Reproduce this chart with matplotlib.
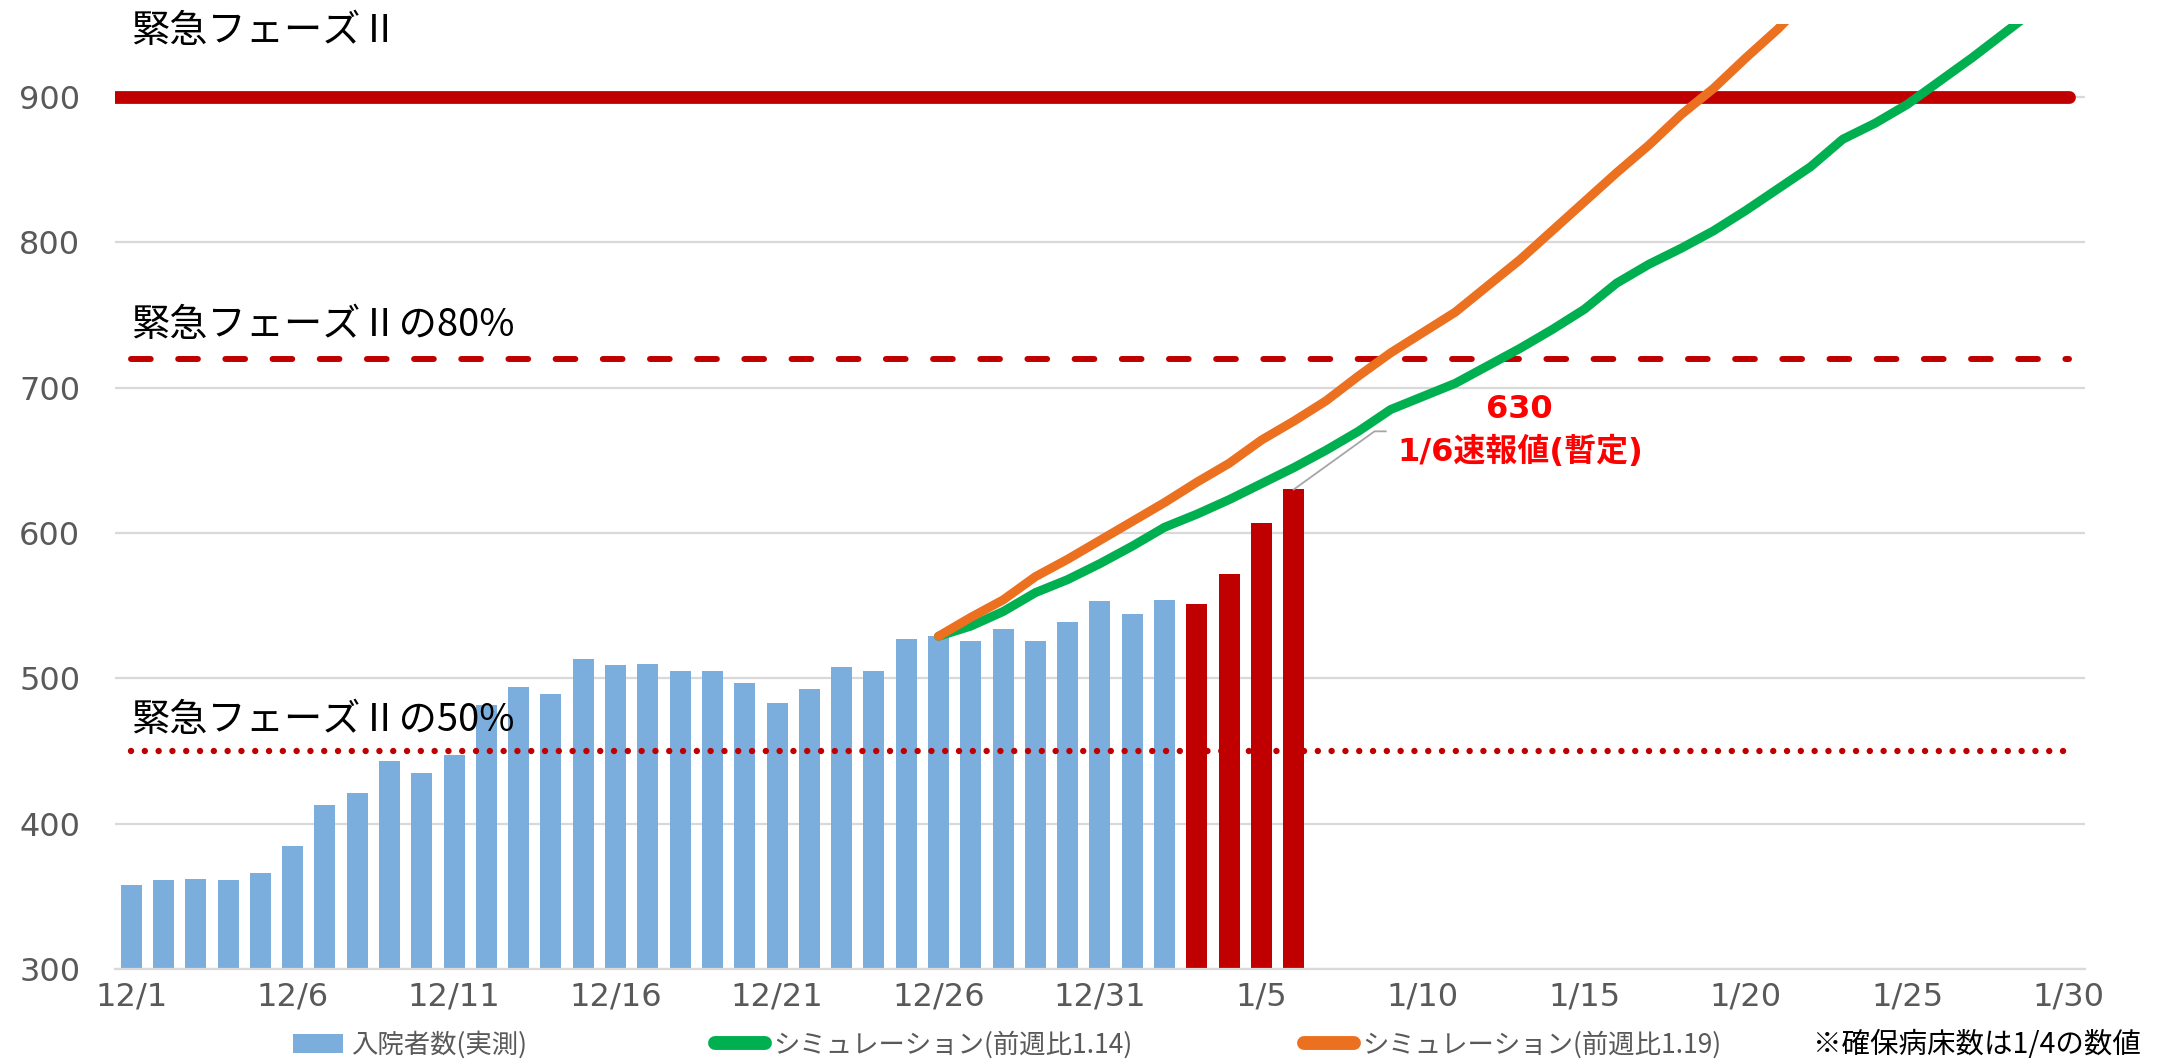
import matplotlib
matplotlib.use("Agg")
import matplotlib.pyplot as plt
from matplotlib.patches import Patch
from matplotlib.lines import Line2D

plt.rcParams['font.family'] = ['DejaVu Sans', 'Noto Sans CJK JP']
CJK = ['Noto Sans CJK JP', 'DejaVu Sans']

# day index 0 = 12/1 ... 60 = 1/30
tick_pos = [0, 5, 10, 15, 20, 25, 30, 35, 40, 45, 50, 55, 60]
tick_labels = ['12/1', '12/6', '12/11', '12/16', '12/21', '12/26', '12/31',
               '1/5', '1/10', '1/15', '1/20', '1/25', '1/30']
n_days = 61

# inpatients, measured (12/1 - 1/2)
actual = [358, 361, 362, 361, 366, 385, 413, 421, 443, 435, 447, 482, 494,
          489, 513, 509, 510, 505, 505, 497, 483, 493, 508, 505, 527, 529,
          526, 534, 526, 539, 553, 544, 554]
# newest values (1/3 - 1/6)
recent = [551, 572, 607, 630]

# simulations start on 12/26 (day 25)
sim_start = 25
sim_114 = [529, 536, 546, 559, 568, 579, 591, 604, 613, 623, 634, 645, 657,
           670, 685, 694, 703, 715, 727, 740, 754, 772, 785, 796, 808, 822,
           837, 852, 871, 882, 895, 911, 927, 944, 961]
sim_119 = [529, 542, 554, 570, 582, 595, 608, 621, 635, 648, 664, 677, 691,
           708, 724, 738, 752, 770, 788, 808, 828, 848, 867, 888, 906, 927,
           947, 970]

phase2 = 900
phase2_80 = 720
phase2_50 = 450

blue = '#7CAEDD'
dred = '#C00000'
green = '#00B050'
orange = '#EB7120'
gray = '#595959'

fig = plt.figure(figsize=(21.70, 10.63), dpi=100)
ax = fig.add_axes([0.053, 0.0884, 0.9078, 0.8886])

x_act = list(range(len(actual)))
x_rec = list(range(len(actual), len(actual) + len(recent)))
ax.bar(x_act, actual, width=0.65, color=blue, zorder=2)
ax.bar(x_rec, recent, width=0.65, color=dred, zorder=2)

# threshold lines
ax.plot([-0.5, n_days - 1], [phase2, phase2], color=dred, lw=9.2,
        solid_capstyle='round', zorder=3)
ax.plot([0, n_days - 1], [phase2_80, phase2_80], color=dred, lw=4.3,
        dashes=(3.3, 4.6), dash_capstyle='round', zorder=3)
ax.plot([0, n_days - 1], [phase2_50, phase2_50], color=dred, lw=4.6,
        dashes=(0.01, 2.15), dash_capstyle='round', zorder=3)

# simulations
ax.plot(range(sim_start, sim_start + len(sim_114)), sim_114, color=green,
        lw=6.5, solid_capstyle='round', solid_joinstyle='round', zorder=4)
ax.plot(range(sim_start, sim_start + len(sim_119)), sim_119, color=orange,
        lw=6.5, solid_capstyle='round', solid_joinstyle='round', zorder=5)

ax.set_xlim(-0.5, n_days - 0.5)
ax.set_ylim(300, 950)
ax.set_yticks([300, 400, 500, 600, 700, 800, 900])
ax.set_xticks(tick_pos)
ax.set_xticklabels(tick_labels)
ax.tick_params(axis='both', length=0, labelsize=23, labelcolor=gray)
ax.tick_params(axis='x', pad=9)
ax.tick_params(axis='y', pad=25)
ax.grid(axis='y', color='#D9D9D9', lw=1.6, zorder=0)
ax.set_axisbelow(True)
for s in ['top', 'right', 'left']:
    ax.spines[s].set_visible(False)
ax.spines['bottom'].set_color('#D9D9D9')
ax.spines['bottom'].set_linewidth(1.6)

# threshold labels
ax.text(0, 945, '緊急フェーズⅡ', fontsize=27.5, family=CJK, va='center',
        ha='left', clip_on=False)
ax.text(0, 743, '緊急フェーズⅡの80%', fontsize=27.5, family=CJK,
        va='center', ha='left')
ax.text(0, 471, '緊急フェーズⅡの50%', fontsize=27.5, family=CJK,
        va='center', ha='left')

# callout for 1/6
last_day = x_rec[-1]
ax.plot([last_day, 38.5, 38.85], [recent[-1], 670, 670], color='#A6A6A6',
        lw=1.3, zorder=3)
ax.text(43.0, 685, str(recent[-1]), color='#FF0000', fontsize=23,
        fontweight='bold', ha='center', va='center')
ax.text(43.0, 656, '1/6速報値(暫定)', color='#FF0000', fontsize=23,
        fontweight='bold', ha='center', va='center')

# legend, one entry per box so each sits where the reference has it
entries = [(Patch(facecolor=blue, edgecolor='none'), '入院者数(実測)', 0.135),
           (Line2D([], [], color=green, lw=10, solid_capstyle='round'),
            'シミュレーション(前週比1.14)', 0.3295),
           (Line2D([], [], color=orange, lw=10, solid_capstyle='round'),
            'シミュレーション(前週比1.19)', 0.601)]
for h, lab, xpos in entries:
    leg = fig.legend([h], [lab], loc='center left',
                     bbox_to_anchor=(xpos, 0.0169), frameon=False,
                     prop={'family': CJK, 'size': 19},
                     handlelength=1.9, handleheight=0.75,
                     handletextpad=0.3, borderpad=0, borderaxespad=0)
    for t in leg.get_texts():
        t.set_color(gray)
fig.text(0.8355, 0.0169, '※確保病床数は1/4の数値', fontsize=20.5,
         family=CJK, ha='left', va='center', color='black')

fig.savefig('out.png', dpi=100)
